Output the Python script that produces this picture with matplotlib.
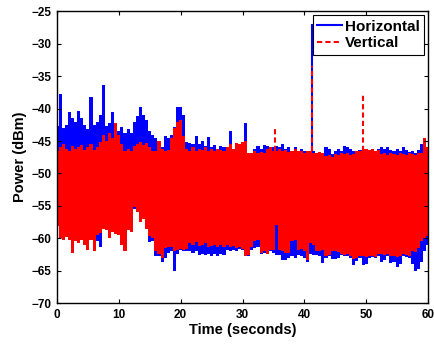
import numpy as np
import matplotlib
matplotlib.use('Agg')
import matplotlib.pyplot as plt
from matplotlib.lines import Line2D

plt.rcParams['font.family'] = ['Liberation Sans', 'DejaVu Sans']
plt.rcParams['font.weight'] = 'bold'
plt.rcParams['axes.labelweight'] = 'bold'

# time grid, 0.5 s bins
t = np.arange(0, 60.5, 0.5)

# Horizontal: upper / lower envelope of the trace (dBm)
h_top = [-42.7, -37.8, -43.0, -42.5, -40.6, -41.5, -42.0, -40.4, -41.5, -42.5,
         -43.2, -38.2, -42.5, -42.0, -41.0, -36.4, -42.7, -42.2, -40.6, -43.0,
         -43.5, -42.8, -43.8, -43.2, -43.8, -42.0, -41.2, -39.8, -41.0, -41.8,
         -43.5, -44.0, -44.5, -45.5, -46.0, -44.2, -44.5, -44.0, -42.8, -39.8,
         -39.8, -41.0, -45.2, -45.3, -45.5, -44.3, -45.5, -45.0, -45.8, -44.4,
         -46.0, -45.6, -46.2, -45.8, -46.0, -46.3, -43.5, -46.2, -46.0, -46.4,
         -46.2, -42.3, -47.0, -46.8, -46.2, -45.8, -46.3, -45.6, -45.8, -46.5,
         -46.0, -45.8, -46.0, -45.5, -46.2, -46.0, -46.5, -46.0, -46.8, -46.3,
         -46.6, -46.5, -46.8, -46.5, -47.0, -46.8, -47.2, -46.0, -46.2, -47.0,
         -46.5, -46.3, -46.6, -45.8, -45.9, -46.3, -46.6, -46.5, -46.4, -46.5,
         -46.2, -46.8, -46.4, -46.7, -46.3, -46.0, -46.2, -45.9, -46.4, -46.6,
         -46.3, -46.6, -46.0, -46.4, -46.7, -46.5, -46.8, -46.4, -45.5, -45.8,
         -46.0]
h_bot = [-57.5, -60.0, -60.2, -59.8, -60.3, -62.0, -60.5, -60.8, -60.2, -61.0,
         -61.5, -60.2, -61.8, -60.5, -61.3, -58.5, -58.8, -59.5, -58.5, -59.0,
         -59.3, -60.5, -61.8, -58.8, -59.0, -55.5, -56.0, -57.0, -57.0, -58.0,
         -60.6, -60.5, -62.8, -62.8, -63.6, -63.0, -62.3, -62.0, -65.1, -62.5,
         -61.8, -61.9, -62.0, -62.0, -62.3, -62.0, -62.6, -62.4, -62.6, -62.5,
         -62.8, -62.5, -62.7, -62.4, -62.6, -61.8, -62.0, -61.8, -61.9, -61.6,
         -61.8, -62.8, -62.8, -61.8, -61.5, -61.3, -62.5, -62.3, -62.5, -62.0,
         -62.3, -62.6, -62.6, -63.3, -63.4, -63.0, -62.8, -63.0, -62.6, -62.7,
         -63.0, -63.6, -62.4, -62.6, -62.6, -62.8, -63.8, -63.0, -62.8, -63.2,
         -63.2, -63.0, -62.6, -62.8, -62.7, -63.0, -64.1, -63.5, -63.0, -64.1,
         -63.9, -63.0, -62.9, -63.0, -62.8, -63.6, -63.4, -62.8, -63.8, -63.6,
         -64.4, -64.0, -62.8, -62.9, -63.0, -64.0, -65.0, -64.8, -63.6, -62.0,
         -61.0]

# Vertical: upper / lower envelope of the trace (dBm)
v_top = [-46.6, -46.0, -45.5, -46.2, -46.5, -45.8, -46.3, -46.0, -45.6, -46.4,
         -46.0, -45.5, -46.4, -46.0, -45.2, -44.0, -45.0, -43.8, -44.5, -42.2,
         -44.0, -45.5, -46.5, -46.3, -46.6, -45.8, -45.5, -45.2, -45.6, -45.3,
         -46.0, -46.5, -46.6, -45.0, -46.2, -46.5, -46.4, -44.5, -43.0, -42.0,
         -41.8, -44.2, -46.3, -46.5, -46.0, -46.6, -46.2, -46.4, -46.0, -46.5,
         -46.3, -46.6, -46.2, -46.4, -46.5, -46.0, -45.5, -46.2, -45.3, -45.5,
         -45.2, -45.0, -46.8, -46.9, -46.6, -46.8, -46.7, -46.9, -46.3, -46.0,
         -46.5, -46.5, -46.2, -46.6, -46.4, -46.7, -46.5, -46.3, -46.6, -46.5,
         -46.8, -46.6, -46.5, -46.8, -46.9, -46.7, -46.8, -47.3, -47.2, -47.4,
         -47.0, -47.1, -46.9, -47.0, -46.8, -47.1, -47.0, -46.6, -46.5, -46.3,
         -46.2, -46.4, -46.3, -46.5, -46.4, -47.0, -46.9, -47.1, -46.9, -47.0,
         -47.2, -46.8, -47.0, -47.1, -46.9, -47.0, -47.2, -46.9, -46.8, -44.6,
         -46.0]
v_bot = [-58.1, -60.0, -60.2, -59.8, -60.3, -62.2, -60.5, -60.8, -60.2, -61.0,
         -61.8, -60.2, -62.0, -59.5, -59.2, -58.5, -58.8, -60.0, -59.0, -59.3,
         -59.5, -61.0, -62.0, -58.8, -59.0, -55.2, -56.0, -57.5, -57.0, -58.5,
         -59.6, -60.0, -62.0, -62.4, -63.0, -61.5, -61.3, -61.4, -62.0, -61.8,
         -61.6, -61.8, -61.7, -60.8, -61.0, -60.6, -61.2, -61.0, -60.7, -61.3,
         -61.2, -61.0, -61.4, -61.1, -61.3, -61.0, -61.4, -61.2, -61.5, -61.3,
         -61.6, -62.8, -62.6, -61.3, -60.5, -60.2, -62.3, -62.0, -62.4, -61.8,
         -61.8, -58.0, -61.8, -62.0, -62.3, -62.2, -60.5, -60.2, -61.8, -61.7,
         -62.0, -63.3, -60.8, -61.0, -62.0, -61.9, -61.8, -62.8, -62.6, -62.0,
         -61.9, -62.1, -62.4, -62.6, -62.5, -62.8, -63.2, -63.0, -62.8, -62.7,
         -62.9, -62.8, -62.7, -62.9, -62.5, -62.4, -62.6, -62.5, -62.7, -62.8,
         -62.9, -62.7, -62.5, -62.6, -62.7, -62.0, -62.1, -61.5, -60.5, -60.0,
         -59.7]

# isolated spikes (time s, peak dBm), rising from the band top
spike_base = -46.5
h_spike_t = [41.3]
h_spike_db = [-27.0]
v_spike_t = [35.3, 41.3, 49.5]
v_spike_db = [-43.0, -33.5, -37.7]

dash = (0, (2.5, 1.5))

fig = plt.figure(figsize=(4.35, 3.44), dpi=100)
ax = fig.add_axes([0.131, 0.119, 0.853, 0.848])

ax.fill_between(t, h_bot, h_top, step='mid', color='b', lw=0)
ax.vlines(h_spike_t, spike_base, h_spike_db, colors='b', lw=1.5)
ax.fill_between(t, v_bot, v_top, step='mid', color='r', lw=0)
ax.vlines(v_spike_t, spike_base, v_spike_db, colors='r', lw=1.5, linestyles=dash)

ax.set_xlim(0, 60)
ax.set_ylim(-70, -25)
ax.set_xticks(np.arange(0, 61, 10))
ax.set_yticks(np.arange(-70, -24, 5))
ax.tick_params(direction='in', top=True, right=True, length=3, width=0.8,
               labelsize=8.5, pad=4)
for lab in ax.get_xticklabels() + ax.get_yticklabels():
    lab.set_fontweight('bold')
for s in ax.spines.values():
    s.set_linewidth(1.0)

ax.set_xlabel('Time (seconds)', fontsize=10.5, fontweight='bold', labelpad=2)
ax.set_ylabel('Power (dBm)', fontsize=10.5, fontweight='bold', labelpad=3)

handles = [Line2D([], [], color='b', lw=1.5),
           Line2D([], [], color='r', lw=1.5, ls=dash)]
leg = ax.legend(handles, ['Horizontal', 'Vertical'], loc='upper right',
                fontsize=11, fancybox=False, framealpha=1, edgecolor='k',
                borderaxespad=0.25, handlelength=1.6, handletextpad=0.2,
                borderpad=0.3, labelspacing=0.15)
leg.get_frame().set_linewidth(0.8)

fig.savefig('out.png', dpi=100)
